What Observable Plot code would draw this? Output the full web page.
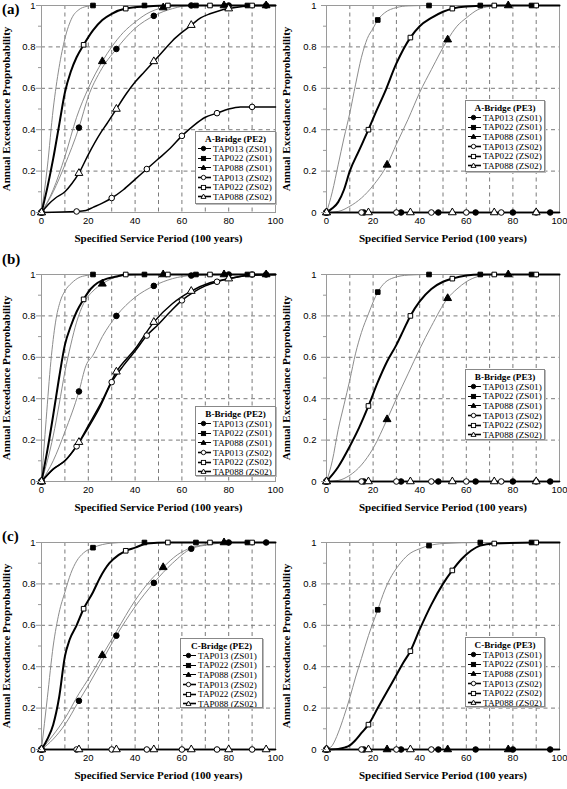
<!DOCTYPE html>
<html><head><meta charset="utf-8">
<script src="https://cdn.jsdelivr.net/npm/d3@7"></script>
<script src="https://cdn.jsdelivr.net/npm/@observablehq/plot@0.6"></script>
<style>
body{margin:0;background:#fff}
#wrap{position:relative;width:567px;height:789px;overflow:hidden;background:#fff}
.panel{position:absolute}
.plab{position:absolute;font:bold 15px "Liberation Serif","DejaVu Serif",serif;line-height:16px}
.leg{position:absolute;background:#fff;border:1px solid #888;box-shadow:1px 1px 0 #bbb;font:9.2px "Liberation Serif","DejaVu Serif",serif;box-sizing:border-box;padding:2px 0 0 2px;color:#000;overflow:hidden}
.leg .t{font-weight:bold;text-align:center;line-height:10px;padding-right:2px}
.leg .r{display:flex;align-items:center;height:9.6px;white-space:nowrap}
.leg .r svg{margin-right:2px;flex:none}
g[aria-label="x-axis label"], g[aria-label="y-axis label"]{font-family:"Liberation Serif","DejaVu Serif",serif;font-weight:bold;font-size:11px}
</style></head>
<body><div id="wrap"></div>
<script>
// ---------- categories / labels ----------
const seriesNames = ["TAP013 (ZS01)","TAP022 (ZS01)","TAP088 (ZS01)","TAP013 (ZS02)","TAP022 (ZS02)","TAP088 (ZS02)"];
const xTicks = [0,20,40,60,80,100];
const yTicks = [0,0.2,0.4,0.6,0.8,1];
const yMinor = [0.1,0.3,0.5,0.7,0.9];
const gridXs = [10,20,30,40,50,60,70,80,90];
const gridYs = [0.2,0.4,0.6,0.8];
const panelLabels = ["(a)","(b)","(c)"];
const bridges = ["A-Bridge","B-Bridge","C-Bridge"];
const events = ["PE2","PE3"];

// marker x positions per series
const mk013_01 = [0,16,32,48,64,80,96];
const mk022_01 = [0,22,44,66,88];
const mk088_01 = [0,26,52,78,96];
const mk013_02 = [0,15,30,45,60,75,90];
const mk022_02 = [0,18,36,54,72,90];
const mk088_02_PE2 = [0,16,32,48,64,80,96];
const mk088_02_PE3 = [0,18,36,54,72,90];

// ---------- series values [x, y] ----------
// A-Bridge PE2
const a2_013_01 = [[0,0],[5,0.1],[10,0.23],[16,0.41],[20,0.56],[25,0.68],[32,0.79],[40,0.89],[48,0.95],[56,0.985],[64,1],[80,1],[96,1],[100,1]];
const a2_022_01 = [[0,0],[2.5,0.22],[5,0.5],[7.5,0.7],[10,0.84],[13,0.94],[16,0.98],[19,0.995],[22,1],[44,1],[66,1],[88,1],[100,1]];
const a2_088_01 = [[0,0],[5,0.11],[10,0.27],[15,0.46],[20,0.6],[26,0.73],[30,0.8],[35,0.87],[40,0.92],[45,0.96],[52,0.99],[60,1],[78,1],[96,1],[100,1]];
const a2_013_02 = [[0,0],[15,0.005],[19,0.01],[22,0.025],[26,0.045],[30,0.07],[35,0.11],[40,0.16],[45,0.21],[50,0.26],[55,0.31],[60,0.37],[65,0.42],[70,0.46],[75,0.48],[80,0.5],[85,0.51],[90,0.51],[100,0.51]];
const a2_022_02 = [[0,0],[2.5,0.12],[5,0.26],[7.5,0.42],[10,0.58],[12.5,0.68],[15,0.75],[18,0.81],[22,0.88],[26,0.93],[30,0.96],[36,0.985],[45,0.995],[54,1],[72,1],[90,1],[100,1]];
const a2_088_02 = [[0,0],[3,0.04],[6,0.07],[10,0.1],[13,0.14],[16,0.19],[20,0.28],[25,0.38],[28,0.43],[32,0.5],[36,0.57],[40,0.63],[44,0.68],[48,0.73],[52,0.78],[56,0.83],[60,0.87],[64,0.905],[68,0.94],[72,0.96],[76,0.975],[80,0.985],[86,0.995],[92,1],[100,1]];
// A-Bridge PE3
const a3_013_01 = [[0,0],[16,0],[32,0],[48,0],[64,0],[80,0],[96,0],[100,0]];
const a3_022_01 = [[0,0],[2.5,0.1],[5,0.23],[7.5,0.36],[10,0.48],[12.5,0.62],[15,0.75],[17.5,0.84],[20,0.89],[22,0.93],[25,0.965],[30,0.99],[35,0.998],[44,1],[66,1],[88,1],[100,1]];
const a3_088_01 = [[0,0],[5,0.005],[10,0.03],[15,0.07],[20,0.13],[26,0.23],[30,0.33],[35,0.45],[40,0.58],[45,0.69],[52,0.835],[56,0.9],[60,0.94],[65,0.98],[70,0.995],[78,1],[100,1]];
const a3_013_02 = [[0,0],[15,0],[30,0],[45,0],[60,0],[75,0],[90,0],[100,0]];
const a3_022_02 = [[0,0],[2.5,0.02],[5,0.05],[7.5,0.11],[10,0.2],[14,0.3],[18,0.4],[21,0.48],[25,0.58],[30,0.72],[36,0.845],[40,0.9],[45,0.94],[50,0.97],[54,0.985],[60,0.995],[72,1],[90,1],[100,1]];
const a3_088_02 = [[0,0],[18,0],[36,0],[54,0],[72,0],[90,0],[100,0]];
// B-Bridge PE2
const b2_013_01 = [[0,0],[5,0.1],[10,0.24],[16,0.435],[19,0.56],[22,0.61],[26,0.7],[32,0.8],[40,0.89],[48,0.945],[56,0.98],[64,0.995],[80,1],[96,1],[100,1]];
const b2_022_01 = [[0,0],[2,0.3],[4,0.58],[6,0.77],[8,0.87],[10,0.92],[13,0.96],[16,0.985],[19,0.995],[22,1],[44,1],[66,1],[88,1],[100,1]];
const b2_088_01 = [[0,0],[2.5,0.1],[5,0.22],[7.5,0.37],[10,0.53],[12.5,0.66],[15,0.77],[18,0.86],[22,0.92],[26,0.955],[30,0.98],[36,0.995],[44,1],[52,1],[78,1],[96,1],[100,1]];
const b2_013_02 = [[0,0],[5,0.06],[10,0.1],[15,0.17],[20,0.26],[25,0.36],[30,0.48],[35,0.56],[40,0.63],[45,0.705],[50,0.76],[55,0.82],[60,0.875],[65,0.915],[70,0.945],[75,0.965],[80,0.98],[85,0.99],[90,1],[100,1]];
const b2_022_02 = [[0,0],[2.5,0.15],[5,0.32],[7.5,0.5],[10,0.66],[12.5,0.75],[15,0.82],[18,0.88],[21,0.93],[24,0.96],[28,0.98],[32,0.99],[36,1],[54,1],[72,1],[90,1],[100,1]];
const b2_088_02 = [[0,0],[5,0.06],[10,0.1],[16,0.19],[20,0.27],[25,0.37],[32,0.53],[40,0.64],[48,0.77],[56,0.86],[64,0.92],[72,0.96],[80,0.98],[88,0.995],[100,1]];
// B-Bridge PE3
const b3_013_01 = [[0,0],[16,0],[32,0],[48,0],[64,0],[80,0],[96,0],[100,0]];
const b3_022_01 = [[0,0],[2.5,0.1],[5,0.25],[7.5,0.37],[10,0.49],[12.5,0.62],[15,0.72],[18,0.81],[22,0.915],[25,0.96],[29,0.985],[35,0.997],[44,1],[66,1],[88,1],[100,1]];
const b3_088_01 = [[0,0],[5,0.005],[10,0.03],[15,0.08],[20,0.16],[26,0.3],[30,0.4],[35,0.52],[40,0.64],[45,0.75],[52,0.885],[56,0.93],[60,0.965],[65,0.99],[72,1],[78,1],[100,1]];
const b3_013_02 = [[0,0],[15,0],[30,0],[45,0],[60,0],[75,0],[90,0],[100,0]];
const b3_022_02 = [[0,0],[5,0.07],[10,0.17],[14,0.26],[18,0.365],[22,0.48],[26,0.58],[30,0.66],[33,0.73],[36,0.8],[40,0.87],[45,0.93],[50,0.965],[54,0.98],[60,0.995],[66,1],[72,1],[90,1],[100,1]];
const b3_088_02 = [[0,0],[18,0],[36,0],[54,0],[72,0],[90,0],[100,0]];
// C-Bridge PE2
const c2_013_01 = [[0,0],[5,0.05],[10,0.12],[16,0.235],[20,0.31],[25,0.41],[32,0.55],[40,0.69],[48,0.805],[56,0.9],[64,0.97],[72,0.99],[80,1],[96,1],[100,1]];
const c2_022_01 = [[0,0],[2.5,0.25],[5,0.5],[7.5,0.66],[10,0.76],[12.5,0.85],[15,0.91],[18,0.95],[22,0.975],[26,0.99],[30,0.997],[36,1],[44,1],[66,1],[88,1],[100,1]];
const c2_088_01 = [[0,0],[5,0.07],[10,0.15],[16,0.27],[20,0.34],[26,0.455],[32,0.57],[40,0.72],[46,0.81],[52,0.88],[58,0.94],[64,0.975],[70,0.99],[78,1],[100,1]];
const c2_013_02 = [[0,0],[15,0],[30,0],[45,0],[60,0],[75,0],[90,0],[100,0]];
const c2_022_02 = [[0,0],[2.5,0.05],[5,0.12],[7.5,0.25],[10,0.45],[12,0.53],[15,0.6],[18,0.68],[22,0.76],[25,0.83],[29,0.9],[33,0.94],[36,0.96],[40,0.975],[45,0.995],[54,1],[72,1],[90,1],[100,1]];
const c2_088_02 = [[0,0],[16,0],[32,0],[48,0],[64,0],[80,0],[96,0],[100,0]];
// C-Bridge PE3
const c3_013_01 = [[0,0],[16,0],[32,0],[48,0],[64,0],[80,0],[96,0],[100,0]];
const c3_022_01 = [[0,0],[2.5,0.02],[5,0.08],[7.5,0.16],[10,0.25],[12.5,0.35],[15,0.44],[18,0.55],[22,0.675],[25,0.77],[28,0.84],[31,0.89],[35,0.94],[40,0.97],[44,0.985],[50,0.995],[66,1],[88,1],[100,1]];
const c3_088_01 = [[0,0],[26,0],[52,0],[78,0],[100,0]];
const c3_013_02 = [[0,0],[15,0],[30,0],[45,0],[100,0]];
const c3_022_02 = [[0,0],[5,0.003],[8,0.01],[10,0.02],[12,0.04],[15,0.08],[18,0.12],[22,0.2],[26,0.28],[30,0.36],[33,0.42],[36,0.475],[40,0.58],[45,0.7],[50,0.8],[54,0.865],[58,0.92],[62,0.96],[66,0.985],[72,0.995],[90,1],[100,1]];
const c3_088_02 = [[0,0],[18,0],[36,0],[100,0]];

// ---------- assembly ----------
const panelData = [
  [[a2_013_01,a2_022_01,a2_088_01,a2_013_02,a2_022_02,a2_088_02],[a3_013_01,a3_022_01,a3_088_01,a3_013_02,a3_022_02,a3_088_02]],
  [[b2_013_01,b2_022_01,b2_088_01,b2_013_02,b2_022_02,b2_088_02],[b3_013_01,b3_022_01,b3_088_01,b3_013_02,b3_022_02,b3_088_02]],
  [[c2_013_01,c2_022_01,c2_088_01,c2_013_02,c2_022_02,c2_088_02],[c3_013_01,c3_022_01,c3_088_01,c3_013_02,c3_022_02,c3_088_02]]
];
const symbols = ["circle","square","triangle","circle","square","triangle"];
const markerR = {circle:2.8, square:2.6, triangle:2.9};
const lineStyle = [
  {stroke:"#8c8c8c", w:1}, {stroke:"#8c8c8c", w:1}, {stroke:"#8c8c8c", w:1},
  {stroke:"#000", w:1.5}, {stroke:"#000", w:2}, {stroke:"#000", w:1.5}
];
const rowTops = [0, 269, 537];
const labelTops = [1, 251, 528];
const legendPos = [
  [[195,131,81,73],[465,100,80,72]],
  [[195,406,81,70],[465,369,80,71]],
  [[180,638,83,70],[465,637,80,70]]
];

const wrap = document.getElementById("wrap");

function markerSet(i, pe) {
  return [mk013_01, mk022_01, mk088_01, mk013_02, mk022_02, pe === "PE2" ? mk088_02_PE2 : mk088_02_PE3][i];
}

panelData.forEach((row, ri) => {
  row.forEach((series, ci) => {
    const pe = events[ci];
    const left = ci === 0 ? 0 : 280;
    const width = ci === 0 ? 283 : 287;
    const mL = ci === 0 ? 41 : 46;
    const marks = [
      Plot.gridX(gridXs, {stroke:"#7a7a7a", strokeOpacity:1, strokeDasharray:"4,3.5"}),
      Plot.gridY(gridYs, {stroke:"#7a7a7a", strokeOpacity:1, strokeDasharray:"4,3.5"}),
      Plot.frame({stroke:"#9a9a9a"})
    ];
    [0,1,2,3,4,5].forEach(i => {
      marks.push(Plot.line(series[i], {x: d => d[0], y: d => d[1], stroke: lineStyle[i].stroke, strokeWidth: lineStyle[i].w, curve: "monotone-x"}));
    });
    [0,1,2,3,4,5].forEach(i => {
      const set = markerSet(i, pe);
      const pts = series[i].filter(d => set.includes(d[0]));
      marks.push(Plot.dot(pts, {x: d => d[0], y: d => d[1], symbol: symbols[i], r: markerR[symbols[i]],
        fill: i < 3 ? "#000" : "#fff", stroke: "#000", strokeWidth: 1}));
    });
    marks.push(
      Plot.axisX(xTicks, {tickSize:0, tickPadding:5, label:"Specified Service Period (100 years)", labelAnchor:"center", labelOffset:29, labelArrow:"none"}),
      Plot.axisY(yTicks, {tickSize:5, stroke:"#999", tickPadding: ci === 0 ? 1 : 5, tickFormat: d => String(d),
        label:"Annual Exceedance Proprobability", labelAnchor:"center", labelOffset: ci === 0 ? 39 : 44, labelArrow:"none"}),
      Plot.axisY(yMinor, {tickSize:3, stroke:"#999", tickFormat: () => "", label: null})
    );
    const chart = Plot.plot({
      width, height: 252,
      marginLeft: mL, marginRight: 8, marginTop: 5, marginBottom: 40,
      x: {domain:[0,100]}, y: {domain:[0,1]},
      style: {fontFamily: '"Liberation Sans", Arial, sans-serif', fontSize: "9.5px", background: "transparent", overflow: "visible", color: "#000"},
      marks
    });
    chart.classList.add("panel");
    chart.style.left = left + "px";
    chart.style.top = rowTops[ri] + "px";
    wrap.appendChild(chart);

    const [lx, ly, lw, lh] = legendPos[ri][ci];
    const leg = document.createElement("div");
    leg.className = "leg";
    Object.assign(leg.style, {left: lx+"px", top: ly+"px", width: lw+"px", height: lh+"px"});
    const t = document.createElement("div");
    t.className = "t";
    t.textContent = `${bridges[ri]} (${pe})`;
    leg.appendChild(t);
    seriesNames.forEach((name, i) => {
      const r = document.createElement("div");
      r.className = "r";
      const sw = i < 3 ? 1 : 1.6;
      const fill = i < 3 ? "#000" : "#fff";
      let sym;
      if (symbols[i] === "circle") sym = `<circle cx="5.5" cy="4.5" r="2.2" fill="${fill}" stroke="#000" stroke-width="0.9"/>`;
      else if (symbols[i] === "square") sym = `<rect x="3.4" y="2.4" width="4.2" height="4.2" fill="${fill}" stroke="#000" stroke-width="0.9"/>`;
      else sym = `<path d="M5.5,2L8,6.4L3,6.4Z" fill="${fill}" stroke="#000" stroke-width="0.9"/>`;
      r.innerHTML = `<svg width="13" height="9"><line x1="0" x2="13" y1="4.5" y2="4.5" stroke="#000" stroke-width="${sw}"/>${sym}</svg><span>${name}</span>`;
      leg.appendChild(r);
    });
    wrap.appendChild(leg);
  });
  const pl = document.createElement("div");
  pl.className = "plab";
  pl.textContent = panelLabels[ri];
  pl.style.left = "2px";
  pl.style.top = labelTops[ri] + "px";
  wrap.appendChild(pl);
});
</script>
</body></html>
